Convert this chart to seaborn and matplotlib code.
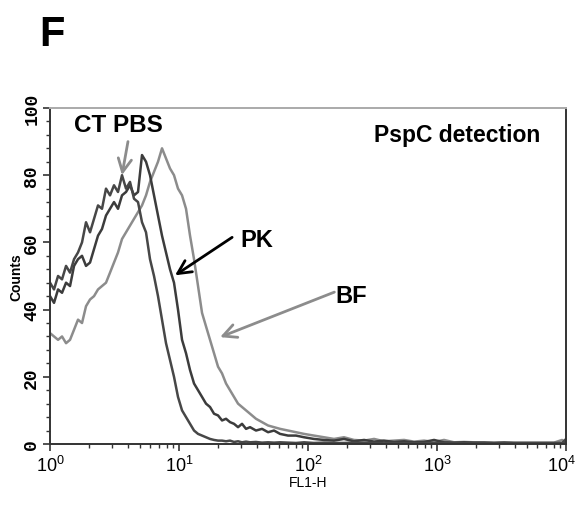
import pandas as pd
import seaborn as sns
import matplotlib.pyplot as plt
from matplotlib.ticker import MultipleLocator, LogLocator, NullFormatter, FixedLocator, FixedFormatter

# FL1-H channel positions (log scale)
fl1h = [1.00, 1.074, 1.154, 1.239, 1.331, 1.429, 1.535, 1.648, 1.770, 1.901,
        2.042, 2.193, 2.355, 2.529, 2.716, 2.918, 3.133, 3.365, 3.614, 3.882,
        4.169, 4.477, 4.809, 5.164, 5.547, 5.957, 6.398, 6.871, 7.380, 7.926,
        8.513, 9.142, 9.819, 10.55, 11.33, 12.17, 13.07, 14.04, 15.08, 16.19,
        17.39, 18.68, 20.06, 21.55, 23.14, 24.85, 26.69, 28.67, 30.79, 33.07,
        35.52, 39.5, 44.0, 49.0, 54.5, 60.7, 70.0, 80.7, 93.1, 111,
        133, 159, 190, 227, 272, 325, 388, 464, 555, 663,
        793, 948, 1133, 1355, 1619, 1936, 2314, 2766, 3306, 3953,
        4725, 5649, 6752, 8072, 9310, 10000]

ct_pbs = [48, 46, 50, 49, 53, 51, 55, 57, 60, 66,
          63, 67, 71, 70, 76, 74, 77, 75, 80, 76,
          78, 73, 72, 66, 63, 55, 50, 44, 37, 30,
          25, 20, 14, 10, 8, 6, 4, 3, 2.5, 2,
          1.5, 1.2, 1, 1, 0.8, 1, 0.6, 0.8, 0.5, 0.7,
          0.5, 0.6, 0.4, 0.5, 0.4, 0.5, 0.4, 0.3, 0.5, 0.3,
          0.4, 0.3, 0.3, 0.4, 0.3, 0.3, 0.2, 0.3, 0.2, 0.3,
          0.2, 0.2, 0.3, 0.2, 0.2, 0.2, 0.2, 0.2, 0.2, 0.2,
          0.2, 0.2, 0.2, 0.2, 0.2, 1.5]

pk = [44, 42, 46, 45, 48, 47, 53, 55, 56, 53,
      54, 58, 62, 64, 68, 70, 72, 70, 74, 75,
      77, 74, 75, 86, 84, 80, 74, 68, 62, 57,
      52, 48, 40, 31, 27, 22, 18, 16, 14, 12,
      11, 9, 8.5, 7, 7.5, 6.5, 6, 5, 6, 4.5,
      5, 4, 4.5, 3.5, 4, 3, 2.5, 2.5, 2, 1.5,
      1.2, 1, 1.5, 0.8, 1.2, 0.7, 1, 0.6, 0.8, 0.5,
      0.6, 1.2, 0.5, 0.4, 0.5, 0.4, 0.4, 0.3, 0.4, 0.3,
      0.3, 0.3, 0.3, 0.3, 0.3, 1]

bf = [33, 32, 31, 32, 30, 31, 34, 37, 36, 41,
      43, 44, 46, 47, 48, 51, 54, 57, 61, 63,
      65, 67, 69, 71, 74, 78, 81, 84, 88, 85,
      82, 80, 76, 74, 70, 62, 55, 47, 39, 35,
      31, 27, 23, 21, 18, 16, 14, 12, 11, 10,
      9, 7.5, 6.5, 5.5, 5, 4.5, 4, 3.5, 3, 2.5,
      2, 1.5, 2, 1.2, 1, 1.5, 0.8, 1, 1.2, 0.7,
      1, 0.6, 1.2, 0.5, 0.6, 0.5, 0.5, 0.4, 0.5, 0.4,
      0.4, 0.4, 0.4, 0.4, 1.2, 0.5]

samples = ['BF', 'PK', 'CT PBS']
colors = ['#8c8c8c', '#3c3c3c', '#474747']

x_ticks = [1, 10, 100, 1000, 10000]
x_labels = ['$10^{0}$', '$10^{1}$', '$10^{2}$', '$10^{3}$', '$10^{4}$']

df = pd.concat([
    pd.DataFrame({'FL1-H': fl1h, 'Counts': bf, 'sample': 'BF'}),
    pd.DataFrame({'FL1-H': fl1h, 'Counts': pk, 'sample': 'PK'}),
    pd.DataFrame({'FL1-H': fl1h, 'Counts': ct_pbs, 'sample': 'CT PBS'}),
])

sns.set_style('ticks')
plt.rcParams['font.family'] = ['Liberation Sans', 'DejaVu Sans']
plt.rcParams['mathtext.fontset'] = 'custom'
plt.rcParams['mathtext.rm'] = 'Liberation Sans'
plt.rcParams['mathtext.it'] = 'Liberation Sans'
plt.rcParams['text.color'] = 'black'
plt.rcParams['axes.labelcolor'] = 'black'
plt.rcParams['xtick.labelcolor'] = 'black'
plt.rcParams['ytick.labelcolor'] = 'black'

fig = plt.figure(figsize=(5.77, 5.06), dpi=100)
ax = fig.add_axes([0.0867, 0.1206, 0.8943, 0.664])

sns.lineplot(data=df, x='FL1-H', y='Counts', hue='sample', hue_order=samples,
             palette=dict(zip(samples, colors)),
             linewidth=1.8, legend=False, ax=ax, sort=False)

ax.set_xscale('log')
ax.set_xlim(1, 10000)
ax.set_ylim(0, 100)
ax.yaxis.set_major_locator(MultipleLocator(20))
ax.yaxis.set_minor_locator(MultipleLocator(4))
ax.xaxis.set_major_locator(FixedLocator(x_ticks))
ax.xaxis.set_major_formatter(FixedFormatter(x_labels[:-1] + ['']))
ax.xaxis.set_minor_locator(LogLocator(base=10, subs=range(2, 10)))
ax.xaxis.set_minor_formatter(NullFormatter())

for s in ax.spines.values():
    s.set_color('#333333')
    s.set_linewidth(1.4)
    s.set_visible(True)
ax.spines['top'].set_color('#aaaaaa')

ax.tick_params(axis='both', which='major', length=5, width=1.2, color='#333333')
ax.tick_params(axis='both', which='minor', length=3, width=1.0, color='#333333')
ax.tick_params(axis='x', labelsize=13, pad=3)
ax.tick_params(axis='y', labelsize=13, pad=2)
for lab in ax.get_yticklabels():
    lab.set_rotation(90)
    lab.set_va('center')
    lab.set_fontweight('bold')
    lab.set_family('Liberation Mono')

# last decade label nudged left so it stays inside the figure
ax.annotate(x_labels[-1], xy=(x_ticks[-1], 0), xycoords='data',
            xytext=(-3, -8), textcoords='offset points',
            ha='center', va='top', fontsize=13, annotation_clip=False)

ax.set_xlabel('FL1-H', fontsize=10, labelpad=0)
ax.set_ylabel('Counts', fontsize=10, fontweight='bold', labelpad=0)

# annotations
arrow = dict(arrowstyle='->', lw=2, mutation_scale=24, shrinkA=0, shrinkB=0)
ax.text(3.37, 95, 'CT PBS', fontsize=17.5, fontweight='bold', ha='center', va='center')
ax.annotate('', xy=(3.61, 80), xytext=(4.02, 90),
            arrowprops=dict(arrow, color='#8c8c8c'))
ax.text(29.7, 61, 'PK', fontsize=17, fontweight='bold', ha='left', va='center')
ax.annotate('', xy=(9.31, 50.2), xytext=(25.8, 61.5),
            arrowprops=dict(arrow, color='black'))
ax.text(162, 44.3, 'BF', fontsize=17, fontweight='bold', ha='left', va='center')
ax.annotate('', xy=(20.8, 31.8), xytext=(160, 45.2),
            arrowprops=dict(arrow, color='#8c8c8c'))
ax.text(0.95, 0.92, 'PspC detection', transform=ax.transAxes, fontsize=16.5,
        fontweight='bold', ha='right', va='center')

fig.text(0.068, 0.93, 'F', fontsize=30, fontweight='bold', ha='left', va='center')

plt.savefig('out.png', dpi=100)
